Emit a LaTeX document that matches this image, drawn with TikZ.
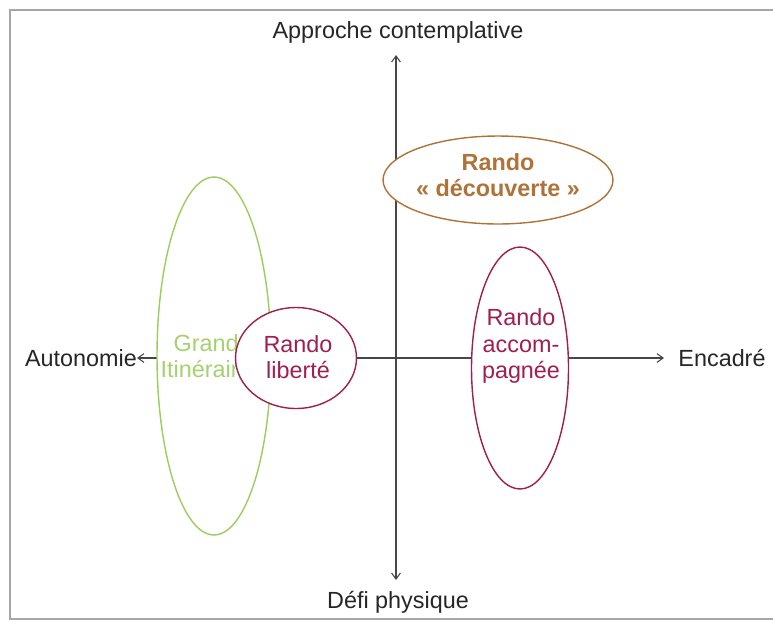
\documentclass[tikz,border=0pt]{standalone}
\usepackage{fontspec}
\setmainfont{Liberation Sans}
\usetikzlibrary{shapes.geometric,arrows.meta}
\definecolor{axe}{RGB}{70,70,70}
\definecolor{vert}{RGB}{155,205,95}
\definecolor{vertclair}{RGB}{165,210,110}
\definecolor{framboise}{RGB}{160,30,80}
\definecolor{brun}{RGB}{175,115,55}
\tikzset{
  zone/.style={ellipse,draw,fill=white,line width=0.8pt,inner sep=0pt},
  etiq/.style={align=center,text=black!85,inner sep=1pt},
  txt/.style={align=center,inner sep=0pt}
}
\begin{document}
\begin{tikzpicture}[x=0.02cm,y=-0.02cm,>={Straight Barb[length=3.5pt,width=5pt]},line width=0.6pt,
  font=\fontsize{13.3}{15}\selectfont]
  \useasboundingbox (0,0) rectangle (773,623);
  % cadre ouvert à droite
  \draw[black!35,line width=1.2pt] (773,10) -- (10,10) -- (10,619) -- (773,619);

  % libellés des axes
  \node[etiq] (approche) at (398,32) {Approche contemplative};
  \node[etiq] (defi) at (398,602) {Défi physique};
  \node[etiq,inner sep=0pt] (autonomie) at (81,358) {Autonomie};
  \node[etiq] (encadre) at (722,358) {Encadré};

  \coordinate (O) at (396,358);
  \coordinate (haut) at (396,55);
  \coordinate (bas) at (396,580);
  \coordinate (gauche) at (137,358);
  \coordinate (droite) at (664,358);

  % axes
  \draw[->,axe] (O) -- (haut);
  \draw[->,axe] (O) -- (bas);
  \draw[->,axe] (O) -- (gauche);
  \draw[->,axe] (O) -- (droite);

  % zones et textes
  \node[zone,draw=vert,minimum width=2.28cm,minimum height=7.16cm] (grands) at (214,356) {};
  \node[txt,text=vertclair] (tgrands) at (212,356) {Grands\\Itinéraires};
  \node[zone,draw=framboise,minimum width=2.42cm,minimum height=2.02cm] (liberte) at (296,358) {};
  \node[txt,text=framboise] (tliberte) at (298,357) {Rando\\liberté};
  \node[zone,draw=framboise,minimum width=1.94cm,minimum height=4.84cm] (accomp) at (520,368) {};
  \node[txt,text=framboise] (taccomp) at (521,346) {Rando\\accom-\\pagnée};
  \node[zone,draw=brun,minimum width=4.6cm,minimum height=1.76cm] (decouverte) at (498,180) {};
  \node[txt,text=brun,font=\fontsize{13.3}{15}\selectfont\bfseries] (tdecouverte) at (498,175) {Rando\\« découverte »};
\end{tikzpicture}
\end{document}
